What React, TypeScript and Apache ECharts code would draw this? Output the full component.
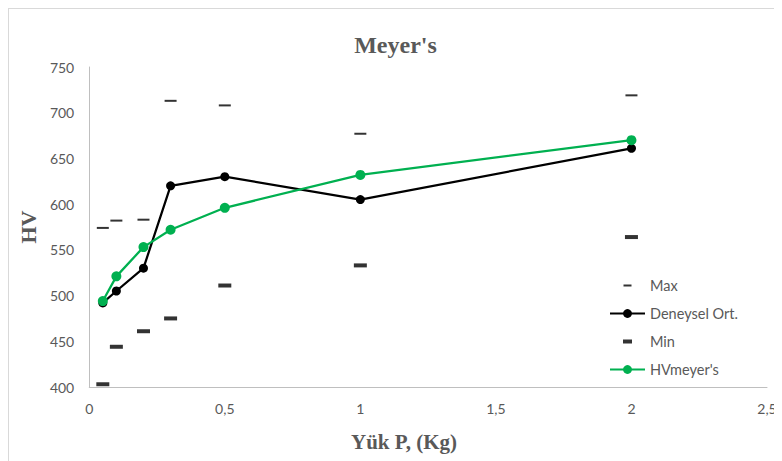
import React, { useEffect, useRef } from "react";
import * as echarts from "echarts";

const loads = [0.05, 0.1, 0.2, 0.3, 0.5, 1, 2];
const maxValues = [574, 582, 583, 713, 708, 677, 719];
const meanValues = [492, 505, 530, 620, 630, 605, 661];
const minValues = [403, 444, 461, 475, 511, 533, 564];
const meyerValues = [494, 521, 553, 572, 596, 632, 670];
const seriesNames = ["Max", "Deneysel Ort.", "Min", "HVmeyer's"];

const pairs = (ys: number[]) => loads.map((x, i) => [x, ys[i]]);

export default function App() {
  const ref = useRef<HTMLDivElement>(null);
  useEffect(() => {
    if (!ref.current) return;
    const chart = echarts.init(ref.current, undefined, { renderer: "svg" });
    const labelColor = "#595959";
    const serif = "'Liberation Serif', 'Times New Roman', serif";
    const sans = "Lato, 'Noto Sans', sans-serif";
    chart.setOption({
      animation: false,
      backgroundColor: "#ffffff",
      title: [
        {
          text: "Meyer's",
          left: "center",
          top: 19,
          textStyle: { fontFamily: serif, fontSize: 24, fontWeight: "bold", color: labelColor },
        },
        {
          text: "Yük P, (Kg)",
          left: 337,
          top: 417,
          textStyle: { fontFamily: serif, fontSize: 21, fontWeight: "bold", color: labelColor },
        },
      ],
      grid: { left: 78, right: 15, top: 58, bottom: 74 },
      legend: {
        orient: "vertical",
        left: 595,
        top: 264,
        itemWidth: 35,
        itemHeight: 11,
        itemGap: 13,
        textStyle: { fontFamily: sans, fontSize: 14.5, color: labelColor },
        data: [
          { name: seriesNames[0], icon: "path://M0,0M35,11M13.5,4.5h8v2h-8z" },
          { name: seriesNames[1] },
          { name: seriesNames[2], icon: "path://M0,0M35,11M13,3.5h9v4h-9z" },
          { name: seriesNames[3] },
        ],
      },
      xAxis: {
        type: "value",
        min: 0,
        max: 2.5,
        interval: 0.5,
        splitLine: { show: false },
        axisTick: { show: false },
        axisLine: { show: true, onZero: false, lineStyle: { color: "#bfbfbf", width: 1 } },
        axisLabel: {
          margin: 14,
          fontFamily: sans,
          fontSize: 14,
          color: labelColor,
          formatter: (v: number) => String(v).replace(".", ","),
        },
      },
      yAxis: {
        type: "value",
        min: 400,
        max: 750,
        interval: 50,
        name: "HV",
        nameLocation: "middle",
        nameRotate: 90,
        nameGap: 50,
        nameTextStyle: { fontFamily: serif, fontSize: 22, fontWeight: "bold", color: labelColor },
        splitLine: { show: false },
        axisTick: { show: false },
        axisLine: { show: true, lineStyle: { color: "#bfbfbf", width: 1 } },
        axisLabel: { margin: 15, fontFamily: sans, fontSize: 14, color: labelColor },
      },
      series: [
        {
          name: seriesNames[0],
          type: "scatter",
          data: pairs(maxValues),
          symbol: "rect",
          symbolSize: [12, 2],
          itemStyle: { color: "#000000" },
        },
        {
          name: seriesNames[1],
          type: "line",
          data: pairs(meanValues),
          symbol: "circle",
          symbolSize: 9,
          lineStyle: { color: "#000000", width: 2.25 },
          itemStyle: { color: "#000000" },
        },
        {
          name: seriesNames[2],
          type: "scatter",
          data: pairs(minValues),
          symbol: "rect",
          symbolSize: [13, 4],
          itemStyle: { color: "#000000" },
        },
        {
          name: seriesNames[3],
          type: "line",
          data: pairs(meyerValues),
          symbol: "circle",
          symbolSize: 10,
          lineStyle: { color: "#00b050", width: 2.25 },
          itemStyle: { color: "#00b050" },
        },
      ],
    });
    return () => chart.dispose();
  }, []);
  return (
    <div
      style={{
        width: 774,
        height: 453,
        boxSizing: "border-box",
        borderTop: "1px solid #d9d9d9",
        borderLeft: "1px solid #d9d9d9",
      }}
    >
      <div ref={ref} style={{ width: 773, height: 452 }} />
    </div>
  );
}
